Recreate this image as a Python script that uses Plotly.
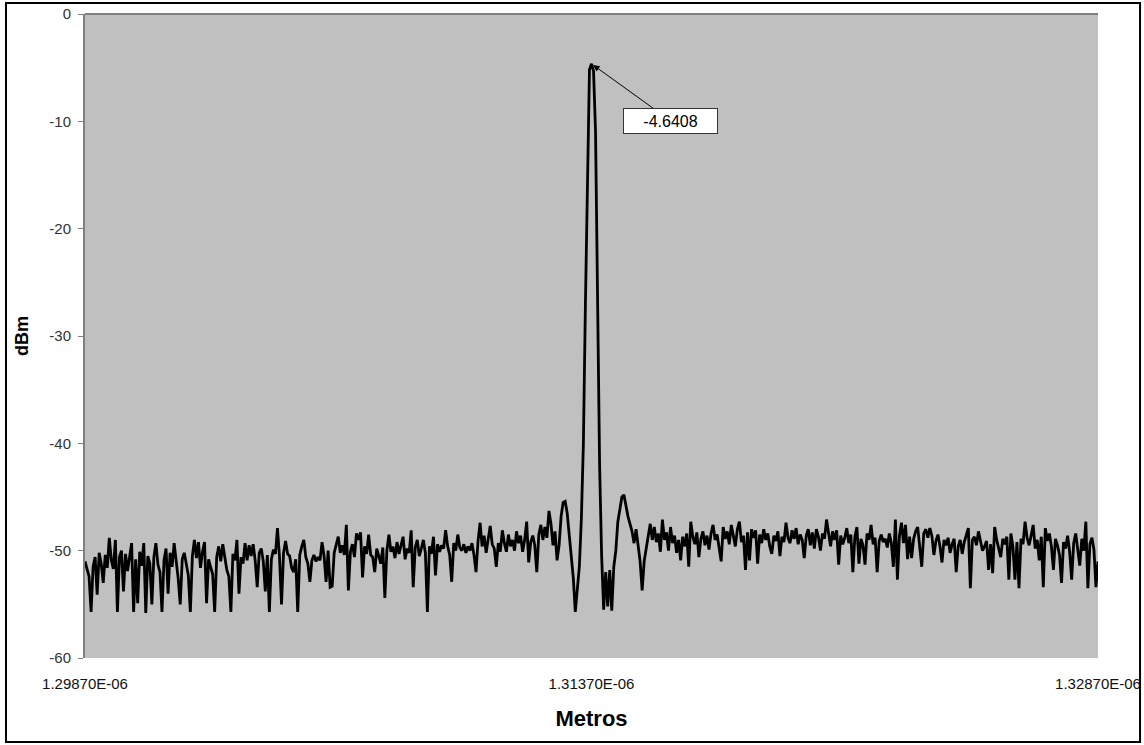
import plotly.graph_objects as go

# ---- data ----
wl_start = 1.29870e-6      # first sample (m)
wl_step = 0.06e-9          # sample spacing (m)

dbm = [
    # 0-99
    -51.0, -51.8, -52.4, -55.7, -51.5, -50.6, -54.1, -50.2, -51.2, -53.0,
    -50.4, -51.6, -48.8, -50.9, -51.7, -49.0, -55.7, -50.6, -50.0, -53.8,
    -50.3, -51.9, -50.7, -49.3, -55.7, -50.8, -54.9, -50.1, -51.4, -49.3,
    -55.8, -50.5, -51.2, -55.0, -50.6, -49.3, -51.3, -52.0, -55.7, -50.9,
    -49.8, -54.0, -50.2, -51.5, -49.3, -51.0, -52.6, -55.0, -50.8, -50.2,
    -51.4, -52.3, -55.7, -50.5, -49.0, -50.7, -49.2, -51.6, -50.1, -49.2,
    -54.9, -50.8, -51.5, -52.2, -55.7, -50.6, -49.6, -51.0, -49.4, -50.5,
    -51.8, -52.4, -55.7, -50.3, -50.9, -49.0, -54.0, -50.6, -51.2, -49.3,
    -50.9, -49.5, -50.5, -49.4, -50.9, -53.4, -50.2, -49.8, -51.0, -53.8,
    -50.4, -55.7, -50.8, -49.9, -50.3, -47.9, -50.6, -55.0, -50.2, -49.1,
    # 100-199
    -50.3, -50.5, -51.6, -52.0, -50.8, -55.7, -50.4, -49.6, -49.0, -50.6,
    -51.2, -52.9, -50.9, -50.4, -51.0, -50.6, -50.9, -49.2, -50.5, -52.9,
    -50.0, -53.4, -53.3, -50.2, -49.4, -48.7, -50.2, -49.5, -50.4, -47.6,
    -53.7, -50.1, -49.4, -50.6, -48.4, -49.0, -48.3, -52.5, -49.6, -50.3,
    -48.5, -50.4, -50.6, -52.0, -49.8, -50.5, -51.2, -49.7, -54.4, -50.0,
    -48.5, -50.1, -49.6, -50.7, -49.2, -50.3, -49.6, -48.7, -50.8, -49.8,
    -50.2, -48.1, -53.4, -49.7, -49.0, -50.5, -49.8, -49.0, -50.2, -55.7,
    -49.6, -50.3, -48.7, -52.3, -49.4, -50.1, -49.5, -49.8, -48.1, -49.6,
    -50.4, -52.9, -49.3, -50.0, -48.5, -49.7, -50.0, -49.4, -50.2, -49.6,
    -50.0, -49.3, -50.4, -52.0, -49.1, -47.4, -49.6, -48.6, -50.2, -49.0,
    # 200-249
    -47.7, -49.4, -49.8, -51.5, -49.3, -50.1, -48.1, -49.3, -50.1, -48.5,
    -49.6, -49.0, -50.0, -48.2, -49.3, -48.6, -50.1, -49.0, -47.3, -51.1,
    -49.2, -48.6, -49.5, -52.0, -48.5, -47.6, -49.0, -47.8, -48.8, -46.3,
    -47.5, -49.5, -48.2, -50.9, -49.5, -46.8, -45.5, -45.4, -46.5, -48.5,
    -50.5, -52.5, -55.7, -53.5, -51.5, -47.0, -40.0, -27.0, -14.0, -5.2,
    # 250 (peak)
    -4.6408,
    # 251-299
    -5.3, -11.0, -26.0, -42.0, -50.5, -55.5, -52.0, -55.2, -51.8,
    -55.6, -51.5, -50.0, -47.3, -46.0, -45.0, -44.8, -46.0, -46.8, -47.5,
    -48.2, -49.3, -48.0, -49.5, -51.0, -53.7, -51.0, -49.8, -48.5, -47.5,
    -49.0, -47.8, -49.2, -48.4, -50.1, -47.1, -49.0, -48.3, -50.0, -47.8,
    -49.3, -48.6, -50.2, -49.0, -50.9, -48.7, -49.6, -48.4, -51.5, -47.3,
    # 300-399
    -48.7, -49.4, -48.3, -50.6, -48.9, -48.2, -49.5, -48.6, -49.9, -48.4,
    -47.6, -49.0, -48.5, -49.6, -51.0, -47.8, -48.9, -48.2, -49.4, -47.6,
    -48.8, -49.6, -48.0, -47.3, -49.2, -48.6, -51.8, -48.3, -50.9, -48.0,
    -48.8, -48.1, -51.2, -48.5, -49.3, -48.0, -49.0, -48.4, -49.6, -50.3,
    -48.6, -49.1, -48.2, -50.5, -48.7, -49.2, -47.4, -48.8, -49.3, -48.1,
    -48.9, -47.9, -49.4, -48.5, -49.0, -50.7, -48.6, -48.0, -49.5, -48.3,
    -49.8, -48.0, -48.7, -50.0, -48.4, -48.9, -47.1, -48.5, -49.6, -48.2,
    -49.0, -48.1, -51.3, -48.6, -49.4, -48.8, -47.9, -49.3, -48.5, -52.0,
    -48.7, -47.8, -51.2, -48.9, -49.5, -51.3, -48.4, -49.0, -47.6, -49.4,
    -48.8, -52.0, -49.1, -48.5, -49.2, -48.9, -49.7, -48.4, -49.3, -51.5,
    # 400-500
    -47.1, -52.7, -48.6, -47.4, -49.3, -47.6, -50.8, -48.7, -50.7, -48.9,
    -48.2, -47.8, -49.5, -51.5, -48.4, -48.0, -48.8, -47.9, -48.6, -50.4,
    -49.1, -48.5, -49.6, -51.1, -49.0, -49.5, -48.8, -50.2, -49.4, -48.9,
    -52.0, -49.6, -49.0, -50.3, -49.2, -48.6, -47.9, -53.5, -49.0, -48.7,
    -49.5, -48.2, -49.3, -50.0, -49.6, -49.1, -51.8, -49.4, -52.1, -47.8,
    -49.0, -49.7, -50.6, -48.9, -49.4, -48.7, -52.7, -48.4, -49.6, -52.7,
    -49.2, -53.5, -48.9, -49.4, -47.3, -48.8, -49.5, -48.6, -47.6, -49.8,
    -49.0, -50.9, -48.7, -53.4, -47.9, -49.1, -48.4, -49.6, -51.8, -48.9,
    -49.5, -50.4, -53.0, -49.2, -49.8, -48.6, -50.1, -52.7, -49.3, -48.4,
    -49.7, -51.4, -48.9, -50.0, -47.3, -53.5, -49.4, -48.8, -49.9, -53.4,
    -51.0,
]

wavelength = [wl_start + k * wl_step for k in range(len(dbm))]

x_tick_vals = [1.29870e-6, 1.31370e-6, 1.32870e-6]
x_tick_text = ["1.29870E-06", "1.31370E-06", "1.32870E-06"]
y_tick_vals = [-60, -50, -40, -30, -20, -10, 0]
y_tick_text = ["-60", "-50", "-40", "-30", "-20", "-10", "0"]

peak_idx = max(range(len(dbm)), key=lambda k: dbm[k])
peak_x = wavelength[peak_idx]
peak_y = dbm[peak_idx]

FONT = "Arial, Liberation Sans, sans-serif"

fig = go.Figure()
fig.add_trace(go.Scatter(
    x=wavelength, y=dbm, mode="lines",
    line=dict(color="black", width=2.8),
    hoverinfo="skip",
))

fig.update_layout(
    width=1144, height=745,
    margin=dict(l=85, r=46, t=14, b=87),
    paper_bgcolor="#FFFFFF",
    plot_bgcolor="#C0C0C0",
    showlegend=False,
    font=dict(family=FONT, color="#000000", size=12),
    xaxis=dict(
        range=[x_tick_vals[0], x_tick_vals[-1]],
        tickvals=x_tick_vals, ticktext=x_tick_text,
        showgrid=False, zeroline=False, showline=False,
        ticks="", ticklabelstandoff=15, automargin=False,
        tickfont=dict(size=15, color="#111111", family=FONT),
        title=dict(text="<b>Metros</b>", font=dict(size=22, family=FONT, color="#000000"), standoff=19),
    ),
    yaxis=dict(
        range=[-60, 0],
        tickvals=y_tick_vals, ticktext=y_tick_text,
        showgrid=False, zeroline=False,
        showline=True, linecolor="#808080", linewidth=2,
        ticks="outside", ticklen=5, tickcolor="#808080", tickwidth=1,
        ticklabelstandoff=4, automargin=False,
        tickfont=dict(size=15, color="#333333", family=FONT),
        title=dict(text="<b>dBm</b>", font=dict(size=18, family=FONT, color="#000000"), standoff=16),
    ),
    shapes=[
        # category axis crossing at 0 dBm (top edge)
        dict(type="line", xref="paper", yref="paper", x0=0, x1=1, y0=1, y1=1,
             line=dict(color="#808080", width=2)),
        # outer chart frame
        dict(type="rect", xref="paper", yref="paper",
             x0=-0.078, x1=1.0415, y0=-0.1304, y1=1.017,
             line=dict(color="black", width=2), fillcolor="rgba(0,0,0,0)", layer="above"),
    ],
    annotations=[
        dict(
            x=peak_x, y=peak_y, xref="x", yref="y",
            text=str(peak_y),
            showarrow=True, arrowhead=2, arrowsize=1.3, arrowwidth=1,
            arrowcolor="black", standoff=2,
            ax=79, ay=57,
            bgcolor="white", bordercolor="#333333", borderwidth=1, borderpad=2,
            width=89, height=20,
            font=dict(size=16, family=FONT, color="#000000"),
        )
    ],
)

fig.write_html("out.html", config={"displayModeBar": False},
               post_script="document.body.style.margin='0';")
